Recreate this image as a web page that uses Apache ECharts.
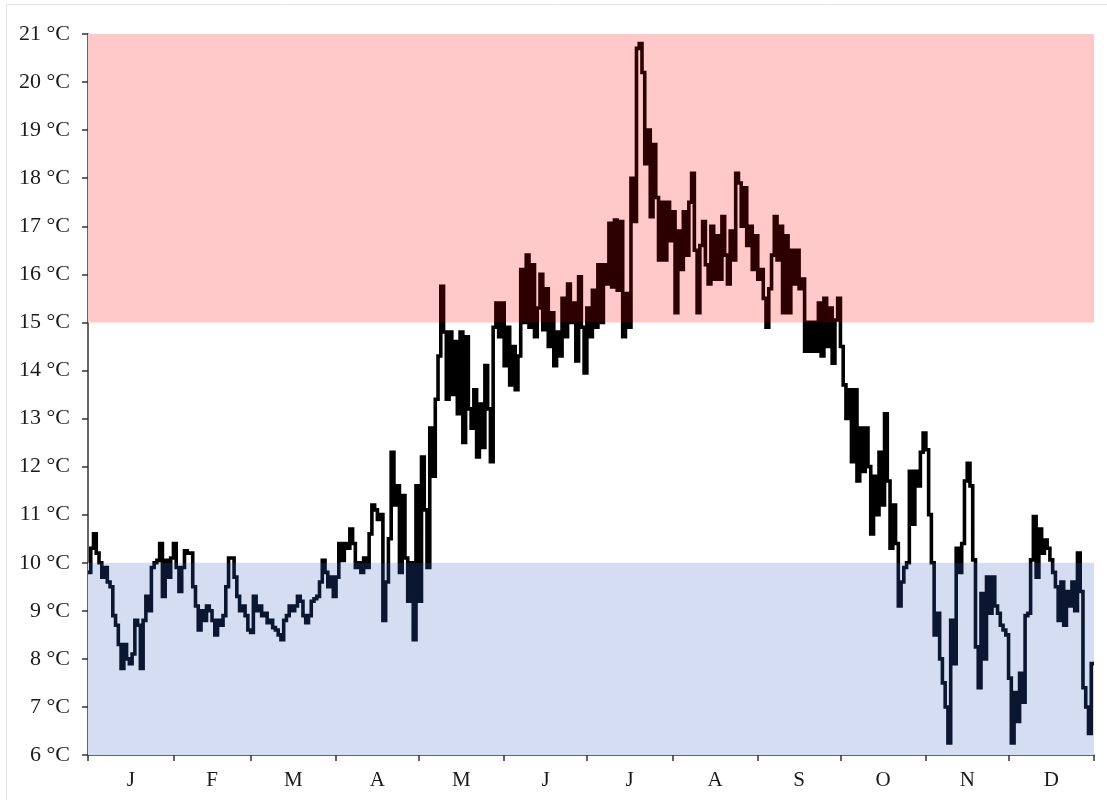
<!DOCTYPE html>
<html>
<head>
<meta charset="utf-8">
<script src="https://cdn.jsdelivr.net/npm/echarts@6/dist/echarts.min.js"></script>
<style>
  html, body { margin: 0; padding: 0; background: #ffffff; }
  #chart { width: 1107px; height: 800px; }
</style>
</head>
<body>
<div id="chart"></div>
<script>
// Daily mean temperature (°C), one array per month
const jan = [9.8, 10.3, 10.6, 10.2, 10.0, 9.7, 9.9, 9.6, 9.5, 8.9, 8.7, 8.3, 7.8, 8.3, 8.0, 7.9, 8.1, 8.8, 8.7, 7.8, 8.8, 9.3, 9.0, 9.9, 10.0, 10.05, 10.4, 9.3, 10.05, 9.7, 10.1];
const feb = [10.4, 9.9, 9.4, 9.9, 10.25, 10.2, 10.2, 9.5, 9.1, 8.6, 9.0, 8.8, 9.1, 9.0, 8.8, 8.5, 8.8, 8.7, 8.9, 9.5, 10.1, 10.1, 9.7, 9.3, 9.0, 9.1, 8.9, 8.6];
const mar = [8.55, 9.3, 9.0, 9.1, 8.9, 8.95, 8.75, 8.8, 8.65, 8.6, 8.5, 8.4, 8.8, 8.9, 9.1, 9.0, 9.1, 9.3, 9.2, 8.9, 8.75, 8.9, 9.2, 9.25, 9.3, 9.6, 10.05, 9.8, 9.5, 9.7, 9.3];
const apr = [9.7, 10.4, 10.05, 10.4, 10.3, 10.7, 10.4, 9.9, 10.0, 9.8, 10.1, 9.9, 10.6, 11.2, 11.1, 10.9, 11.0, 8.8, 9.6, 10.5, 12.3, 11.2, 11.6, 9.8, 11.4, 10.1, 9.2, 10.0, 8.4, 11.6];
const may = [9.2, 12.2, 11.1, 9.9, 12.8, 11.8, 13.4, 14.3, 15.75, 14.8, 13.4, 14.8, 13.5, 14.6, 13.1, 14.8, 12.5, 14.7, 13.2, 12.8, 13.6, 12.2, 13.3, 12.4, 14.1, 13.2, 12.1, 14.9, 15.4, 14.7, 15.4];
const jun = [14.1, 14.9, 13.7, 14.5, 13.6, 14.3, 16.1, 15.0, 16.4, 14.9, 16.2, 14.7, 15.3, 16.0, 14.85, 15.7, 14.5, 15.2, 14.1, 14.8, 14.3, 15.5, 14.7, 15.8, 15.0, 15.4, 14.2, 15.95, 14.9, 13.95];
const jul = [15.3, 14.7, 15.67, 14.9, 16.2, 15.0, 16.2, 15.8, 17.06, 15.74, 17.13, 15.67, 17.1, 14.7, 15.6, 14.9, 18.0, 17.1, 20.7, 20.8, 20.2, 18.3, 19.0, 17.2, 18.7, 17.6, 16.3, 17.5, 16.3, 17.5, 16.7];
const aug = [17.3, 15.2, 16.9, 16.1, 17.3, 16.4, 17.5, 18.1, 16.5, 15.2, 16.6, 17.1, 16.2, 15.8, 17.0, 15.9, 16.8, 15.9, 17.2, 16.4, 15.8, 16.9, 16.3, 18.1, 17.9, 17.0, 17.8, 16.6, 17.0, 16.1, 16.8];
const sep = [15.9, 16.1, 15.5, 14.9, 15.7, 16.4, 17.2, 16.3, 17.0, 15.2, 16.8, 15.2, 16.5, 15.8, 16.5, 15.7, 15.9, 14.4, 15.0, 14.4, 15.0, 14.4, 15.4, 14.3, 15.5, 14.5, 15.3, 14.15, 15.05, 15.5];
const oct = [14.5, 13.7, 13.0, 13.6, 12.1, 13.6, 11.7, 12.8, 11.9, 12.8, 12.0, 10.6, 11.8, 11.0, 12.3, 11.2, 13.1, 11.7, 10.3, 11.2, 10.4, 9.1, 9.6, 9.9, 10.0, 11.9, 10.8, 11.9, 11.6, 12.3, 12.7];
const nov = [12.35, 11.0, 10.0, 8.5, 8.95, 8.0, 7.5, 7.0, 6.25, 8.8, 7.9, 10.3, 9.8, 10.4, 11.7, 12.07, 11.6, 10.06, 8.25, 7.4, 9.36, 8.0, 9.7, 8.95, 9.7, 9.1, 8.95, 8.7, 8.6, 8.5];
const dec = [7.6, 6.25, 7.3, 6.7, 7.7, 7.1, 8.9, 8.95, 10.06, 10.96, 9.7, 10.7, 10.2, 10.47, 10.3, 10.06, 9.8, 9.5, 8.8, 9.6, 8.7, 9.4, 9.1, 9.6, 9.0, 10.2, 9.4, 7.4, 7.0, 6.45, 7.9];

const months = [jan, feb, mar, apr, may, jun, jul, aug, sep, oct, nov, dec];
const monthLabels = ['J', 'F', 'M', 'A', 'M', 'J', 'J', 'A', 'S', 'O', 'N', 'D'];

// Temperature bands (°C)
const yMin = 6, yMax = 21, yStep = 1;
const coolTop = 10;    // blue band: yMin .. coolTop
const warmBottom = 15; // red band: warmBottom .. yMax

// Day-of-year positions of month boundaries and month centres
const monthStarts = [0];
months.forEach(m => monthStarts.push(monthStarts[monthStarts.length - 1] + m.length));
const monthMids = months.map((m, i) => monthStarts[i] + m.length / 2);
const yearLength = monthStarts[monthStarts.length - 1];

// Each day is held until the next one starts; the last day runs to year end
const daily = [].concat(...months);
const points = daily.map((v, i) => [i, v]);
points.push([yearLength, daily[daily.length - 1]]);

const serif = 'Liberation Serif, "Times New Roman", serif';
const axisColor = '#333333';

const chart = echarts.init(document.getElementById('chart'), null, { renderer: 'canvas' });
chart.setOption({
  animation: false,
  backgroundColor: '#ffffff',
  graphic: [
    { type: 'line', shape: { x1: 6, y1: 4.5, x2: 1107, y2: 4.5 }, style: { stroke: '#e4e4e4', lineWidth: 1 }, silent: true },
    { type: 'line', shape: { x1: 6.5, y1: 4, x2: 6.5, y2: 800 }, style: { stroke: '#e4e4e4', lineWidth: 1 }, silent: true }
  ],
  grid: { left: 88, right: 13, top: 34, bottom: 45, containLabel: false },
  xAxis: {
    type: 'value',
    min: 0,
    max: yearLength,
    axisLine: { show: true, onZero: false, lineStyle: { color: axisColor, width: 1.5 } },
    axisTick: { show: true, customValues: monthStarts, length: 6, lineStyle: { color: axisColor, width: 1.5 } },
    axisLabel: {
      customValues: monthMids,
      formatter: v => {
        const i = monthMids.findIndex(m => Math.abs(m - v) < 0.01);
        return i >= 0 ? monthLabels[i] : '';
      },
      fontFamily: serif,
      fontSize: 21,
      color: '#1a1a1a',
      margin: 15
    },
    splitLine: { show: false }
  },
  yAxis: {
    type: 'value',
    min: yMin,
    max: yMax,
    interval: yStep,
    axisLine: { show: true, lineStyle: { color: axisColor, width: 1.5 } },
    axisTick: { show: true, length: 6, lineStyle: { color: axisColor, width: 1.5 } },
    axisLabel: {
      formatter: '{value} °C',
      fontFamily: serif,
      fontSize: 22,
      color: '#1a1a1a',
      margin: 18
    },
    splitLine: { show: false }
  },
  visualMap: {
    type: 'piecewise',
    show: false,
    dimension: 1,
    seriesIndex: 0,
    pieces: [
      { lt: coolTop, color: '#0b1630' },
      { gte: coolTop, lt: warmBottom, color: '#000000' },
      { gte: warmBottom, color: '#2c0000' }
    ]
  },
  series: [{
    type: 'line',
    step: 'end',
    data: points,
    symbol: 'none',
    lineStyle: { width: 3.6, join: 'miter' },
    markArea: {
      silent: true,
      data: [
        [{ yAxis: warmBottom, itemStyle: { color: '#ffc9c9' } }, { yAxis: yMax }],
        [{ yAxis: yMin, itemStyle: { color: '#d4ddf1' } }, { yAxis: coolTop }]
      ]
    }
  }]
});
</script>
</body>
</html>
